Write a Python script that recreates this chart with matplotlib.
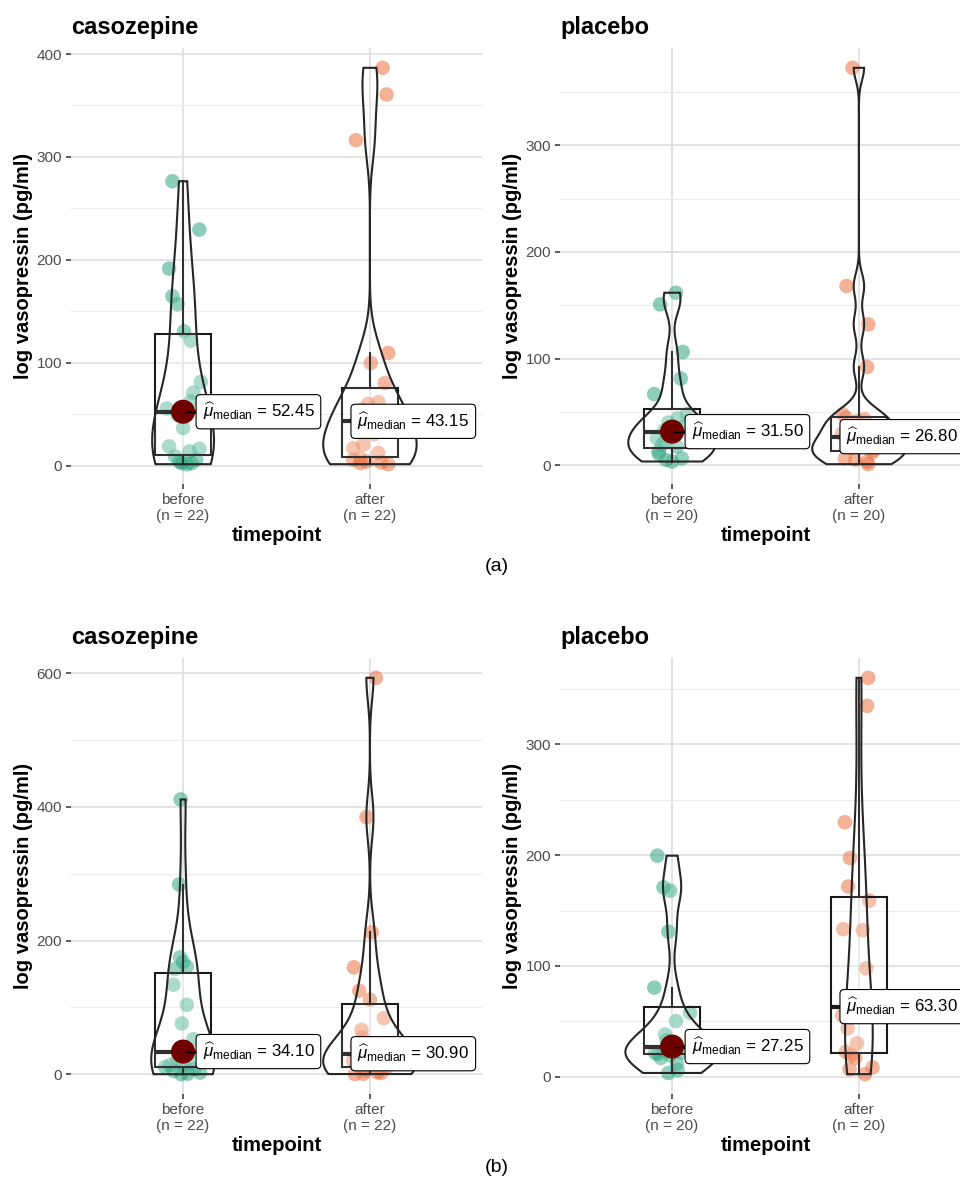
import numpy as np
import matplotlib
matplotlib.use('Agg')
import matplotlib.pyplot as plt
from matplotlib.ticker import MaxNLocator, AutoMinorLocator

plt.rcParams['font.family'] = ['Liberation Sans', 'DejaVu Sans']
plt.rcParams['mathtext.fontset'] = 'custom'
plt.rcParams['mathtext.rm'] = 'Liberation Sans'
plt.rcParams['mathtext.it'] = 'Liberation Sans:italic'
plt.rcParams['mathtext.bf'] = 'Liberation Sans:bold'

groups = ['before', 'after']
colors = ['#1B9E77', '#E9642E']

# vasopressin per subject (sorted) and the horizontal jitter of each dot
a_caso_before = [1.5, 2.5, 2.5, 4, 6, 9, 13.9, 16.5, 18.8, 36.6, 49.3, 55.6, 62.5, 71, 81.3,
                 121.5, 130.6, 157, 164.6, 191.5, 229.4, 276.4]
a_caso_before_jit = [0.02, -0.007, 0.046, -0.02, 0.07, -0.043, 0.034, 0.087, -0.075, 0.0, -0.03,
                     -0.087, 0.041, 0.055, 0.095, 0.041, 0.005, -0.03, -0.057, -0.075, 0.087, -0.057]
a_caso_after = [1.5, 2.5, 3.2, 4.2, 5.8, 7.0, 12.3, 17.1, 20.4, 30.5, 41.0, 45.3, 48, 54.4, 59.9,
                61.8, 80.3, 99.8, 109.5, 316.3, 360.7, 386.6]
a_caso_after_jit = [0.098, -0.05, 0.06, -0.018, -0.089, -0.05, 0.045, -0.089, -0.036, 0.02, -0.06,
                    0.03, -0.02, -0.045, -0.009, 0.045, 0.08, 0.005, 0.098, -0.075, 0.089, 0.068]
a_plac_before = [3.5, 5, 6.5, 10.5, 12.8, 17.5, 19.1, 22, 25.3, 30, 33, 36, 40, 44, 47.9, 66.7,
                 81.2, 106.2, 150.8, 161.7]
a_plac_before_jit = [0.0, -0.032, 0.052, -0.07, -0.073, 0.025, -0.055, -0.04, -0.082, 0.01, -0.04,
                     0.06, -0.02, 0.03, 0.078, -0.096, 0.046, 0.057, -0.064, 0.021]
a_plac_after = [1.0, 3.4, 5.2, 6.5, 12, 14, 16, 18, 20.6, 24.1, 29.5, 35, 41.4, 43, 44.5, 48, 92.1,
                132, 168, 372.5]
a_plac_after_jit = [0.05, 0.044, -0.02, -0.075, 0.07, 0.08, -0.04, 0.02, -0.012, -0.066, -0.09,
                    -0.05, -0.01, 0.03, -0.07, -0.087, 0.044, 0.05, -0.066, -0.034]

b_caso_before = [0.3, 1, 2.7, 5, 8, 11, 14, 15, 17, 22, 31.9, 36.3, 52.7, 76, 104, 134, 157.5, 161,
                 168, 175, 283.8, 411]
b_caso_before_jit = [-0.01, 0.025, 0.091, -0.05, 0.06, -0.096, -0.07, 0.0, 0.045, -0.03, 0.03,
                     -0.02, 0.055, -0.007, 0.02, -0.052, -0.043, 0.02, 0.0, -0.016, -0.021, -0.013]
b_caso_after = [0.5, 1, 2, 3, 6, 10, 13, 16, 20, 24, 28.6, 33.2, 42, 55, 66.6, 84.1, 111.6, 125,
                160, 212.4, 384.6, 592.8]
b_caso_after_jit = [-0.08, -0.035, 0.06, 0.04, -0.02, 0.09, -0.06, 0.03, -0.09, 0.01, -0.05, 0.07,
                    -0.07, -0.04, -0.045, 0.075, 0.0, -0.057, -0.086, 0.009, -0.018, 0.032]
b_plac_before = [3.4, 6, 12, 17, 19.5, 20.5, 21.5, 22, 24, 25, 29.5, 33, 38.1, 50.2, 57.7, 80.4,
                 131, 168, 171, 199.6]
b_plac_before_jit = [-0.02, 0.03, 0.025, -0.06, -0.01, -0.075, -0.091, 0.05, -0.04, 0.01, 0.0,
                     -0.03, -0.037, 0.021, 0.096, -0.095, -0.02, -0.011, -0.046, -0.079]
b_plac_after = [2.3, 6.7, 8.4, 16.9, 19.5, 22.5, 30.2, 43.6, 55.3, 61.6, 65, 97.9, 132.3, 133.2,
                158.9, 171.8, 197.5, 229.8, 334.9, 360.2]
b_plac_after_jit = [0.033, -0.05, 0.073, -0.02, -0.04, -0.07, -0.01, -0.06, -0.09, 0.03, -0.05,
                    0.039, 0.021, -0.084, 0.055, -0.057, -0.048, -0.075, 0.044, 0.05]

W, H = 960, 1180
fig = plt.figure(figsize=(W / 100, H / 100), dpi=100)


def px_axes(left, top, right, bottom):
    return fig.add_axes([left / W, 1 - bottom / H, (right - left) / W, (bottom - top) / H])


def bw_nrd0(x):
    q1, q3 = np.percentile(x, [25, 75])
    lo = min(x.std(ddof=1), (q3 - q1) / 1.34)
    return 0.9 * lo * len(x) ** -0.2


def density(x):
    grid = np.linspace(x.min(), x.max(), 512)
    bw = bw_nrd0(x)
    z = (grid[:, None] - x[None, :]) / bw
    d = np.exp(-0.5 * z ** 2).sum(axis=1) / (len(x) * bw * np.sqrt(2 * np.pi))
    return grid, d


def draw_panel(ax, title, samples, jitters):
    samples = [np.asarray(s, dtype=float) for s in samples]
    dens = [density(s) for s in samples]
    dmax = max(d.max() for _, d in dens)

    for i, (vals, jit) in enumerate(zip(samples, jitters)):
        pos = i + 1
        # jittered raw points
        ax.scatter(pos + np.asarray(jit), vals, s=110, color=colors[i], alpha=0.5,
                   edgecolors='none', zorder=2)

        # boxplot (no outliers)
        q1, med, q3 = np.percentile(vals, [25, 50, 75])
        iqr = q3 - q1
        hi = vals[vals <= q3 + 1.5 * iqr].max()
        lo = vals[vals >= q1 - 1.5 * iqr].min()
        bx = [pos - 0.15, pos + 0.15, pos + 0.15, pos - 0.15, pos - 0.15]
        by = [q1, q1, q3, q3, q1]
        ax.fill(bx, by, fc=(1, 1, 1, 0.2), ec='#1a1a1a', lw=1.5, zorder=3)
        ax.plot([pos, pos], [q3, hi], color='#1a1a1a', lw=1.5, zorder=3)
        ax.plot([pos, pos], [lo, q1], color='#1a1a1a', lw=1.5, zorder=3)
        ax.plot([pos - 0.15, pos + 0.15], [med, med], color='#1a1a1a', lw=3.0,
                solid_capstyle='butt', zorder=3)

        # violin, area-scaled within the panel
        grid, d = dens[i]
        half = 0.25 * d / dmax
        vx = np.concatenate([pos - half, (pos + half)[::-1]])
        vy = np.concatenate([grid, grid[::-1]])
        ax.fill(vx, vy, fc=(1, 1, 1, 0.1), ec='#262626', lw=1.5, zorder=4)

        # median point and its label
        ax.scatter([pos], [med], s=300, color='#700000', edgecolors='none', zorder=5)
        txt = r'$\widehat{\mu}_{\mathrm{median}}$' + ' = {:.2f}'.format(med)
        if i == 0:
            ax.plot([pos + 0.01, pos + 0.066], [med, med], color='black', lw=1.0, zorder=6)
            dx = 14.0
        else:
            dx = -9.0
        ax.annotate(txt, xy=(pos, med), xytext=(dx, 0), textcoords='offset points',
                    ha='left', va='center', fontsize=12.2, color='black', zorder=7,
                    annotation_clip=False,
                    bbox=dict(boxstyle='round,pad=0.38,rounding_size=0.25', fc='white',
                              ec='black', lw=0.8))

    allv = np.concatenate(samples)
    rng = allv.max() - allv.min()
    ax.set_ylim(allv.min() - 0.05 * rng, allv.max() + 0.05 * rng)
    ax.set_xlim(0.4, 2.6)

    ax.yaxis.set_major_locator(MaxNLocator(nbins=5, steps=[1, 2, 5, 10]))
    ax.yaxis.set_minor_locator(AutoMinorLocator(2))
    ax.set_xticks([1, 2])
    ax.set_xticklabels(['{}\n(n = {})'.format(g, len(s)) for g, s in zip(groups, samples)],
                       linespacing=1.15)
    ax.grid(which='major', color='#E0E0E0', lw=1.3, zorder=0)
    ax.grid(which='minor', axis='y', color='#ECECEC', lw=0.9, zorder=0)
    ax.set_axisbelow(True)
    for sp in ax.spines.values():
        sp.set_visible(False)
    ax.tick_params(which='major', length=3.5, width=1.1, color='#333333',
                   labelcolor='#4D4D4D', labelsize=11, pad=3)
    ax.tick_params(which='minor', length=0)

    ax.set_title(title, loc='left', fontsize=17, fontweight='bold', pad=10)
    ax.set_xlabel('timepoint', fontsize=14.5, fontweight='bold')
    ax.set_ylabel('log vasopressin (pg/ml)', fontsize=14.5, fontweight='bold')
    ax.xaxis.set_label_coords(0.5, -0.097)
    ax.yaxis.set_label_coords(-0.092, 0.5)


panels = [
    ((71, 48, 482, 484), 'casozepine', [a_caso_before, a_caso_after], [a_caso_before_jit, a_caso_after_jit]),
    ((560, 48, 971, 484), 'placebo', [a_plac_before, a_plac_after], [a_plac_before_jit, a_plac_after_jit]),
    ((71, 658, 482, 1094), 'casozepine', [b_caso_before, b_caso_after], [b_caso_before_jit, b_caso_after_jit]),
    ((560, 658, 971, 1094), 'placebo', [b_plac_before, b_plac_after], [b_plac_before_jit, b_plac_after_jit]),
]

for box, title, samples, jits in panels:
    ax = px_axes(*box)
    draw_panel(ax, title, samples, jits)

fig.text(497 / W, 1 - 567 / H, '(a)', ha='center', va='center', fontsize=14)
fig.text(497 / W, 1 - 1167 / H, '(b)', ha='center', va='center', fontsize=14)

fig.savefig('out.png', dpi=100)
